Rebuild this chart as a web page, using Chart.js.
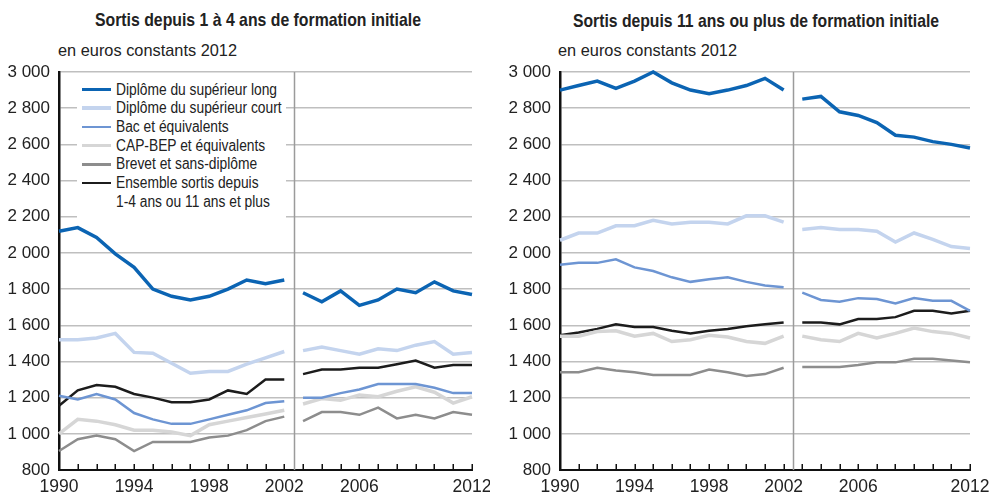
<!DOCTYPE html>
<html lang="fr">
<head>
<meta charset="utf-8">
<script src="https://cdn.jsdelivr.net/npm/chart.js@4/dist/chart.umd.min.js"></script>
<style>
  html, body { margin: 0; padding: 0; background: #fff; }
  body { font-family: 'Liberation Sans', Arial, sans-serif; color: #222; }
  #page { position: relative; width: 989px; height: 498px; overflow: hidden; }
  .panneau { position: absolute; top: 0; height: 498px; }
  .titre { position: absolute; font-weight: bold; font-size: 19px; line-height: 20px; white-space: nowrap; transform-origin: left center; }
  .unite { position: absolute; font-size: 17px; line-height: 20px; white-space: nowrap; transform-origin: left center; }
  #legende { position: absolute; left: 77px; top: 78px; width: 209px; height: 142px; background: #fff; padding-top: 2.5px; box-sizing: border-box; }
  .item { position: relative; padding-left: 39px; font-size: 16px; line-height: 18.7px; white-space: pre; }
  .item span { display: inline-block; transform-origin: left center; }
  .trait { position: absolute; left: 5px; width: 29px; }
</style>
</head>
<body>
<div id="page">
  <div class="titre" data-largeur="326" style="left:95px; top:10px;">Sortis depuis 1 à 4 ans de formation initiale</div>
  <div class="titre" data-largeur="366" style="left:573px; top:11px;">Sortis depuis 11 ans ou plus de formation initiale</div>
  <div class="unite" data-largeur="179" style="left:58px; top:41px;">en euros constants 2012</div>
  <div class="unite" data-largeur="179" style="left:558px; top:41px;">en euros constants 2012</div>
  <div class="panneau" style="left:0; width:490px;"><canvas id="graph1" width="490" height="498"></canvas></div>
  <div class="panneau" style="left:495px; width:494px;"><canvas id="graph2" width="494" height="498"></canvas></div>
  <div id="legende"></div>
</div>
<script>
// Années et étiquettes de l'axe
const annees = [1990, 1991, 1992, 1993, 1994, 1995, 1996, 1997, 1998, 1999, 2000, 2001, 2002,
                2003, 2004, 2005, 2006, 2007, 2008, 2009, 2010, 2011, 2012];
const anneesEtiquetees = [1990, 1994, 1998, 2002, 2006, 2012];
const rupture = 2002.5; // changement de série entre 2002 et 2003

// Séries
const libelles = [
  'Diplôme du supérieur long',
  'Diplôme du supérieur court',
  'Bac et équivalents',
  'CAP-BEP et équivalents',
  'Brevet et sans-diplôme',
  'Ensemble sortis depuis\n1-4 ans ou 11 ans et plus'
];
const couleurs = ['#0b64b3', '#c4d4ee', '#6d95d3', '#d6d6d6', '#8d8d8d', '#1c1c1c'];
const epaisseurs = [3.5, 3.5, 2.5, 3.5, 2.5, 2.5];

// Sortis depuis 1 à 4 ans
const supLong1 = [2120, 2140, 2085, 1995, 1920, 1800, 1760, 1740, 1760, 1800, 1850, 1830, 1850,
                  1780, 1730, 1790, 1710, 1740, 1800, 1780, 1840, 1790, 1770];
const supCourt1 = [1520, 1520, 1530, 1555, 1450, 1445, 1390, 1335, 1345, 1345, 1385, 1420, 1455,
                   1460, 1480, 1460, 1440, 1470, 1460, 1490, 1510, 1440, 1450];
const bac1 = [1210, 1190, 1220, 1190, 1115, 1080, 1055, 1055, 1080, 1105, 1130, 1170, 1180,
              1200, 1200, 1225, 1245, 1275, 1275, 1275, 1255, 1225, 1225];
const cap1 = [1000, 1080, 1070, 1050, 1020, 1020, 1010, 990, 1050, 1070, 1090, 1110, 1130,
              1165, 1195, 1185, 1215, 1205, 1235, 1260, 1230, 1170, 1205];
const brevet1 = [905, 970, 990, 970, 905, 955, 955, 955, 980, 990, 1020, 1070, 1095,
                 1070, 1120, 1120, 1105, 1145, 1085, 1105, 1085, 1120, 1105];
const ensemble1 = [1155, 1240, 1270, 1260, 1220, 1200, 1175, 1175, 1190, 1240, 1220, 1300, 1300,
                   1330, 1355, 1355, 1365, 1365, 1385, 1405, 1365, 1380, 1380];

// Sortis depuis 11 ans ou plus
const supLong2 = [2900, 2925, 2950, 2910, 2950, 3000, 2940, 2900, 2880, 2900, 2925, 2965, 2900,
                  2850, 2865, 2780, 2760, 2720, 2650, 2640, 2615, 2600, 2580];
const supCourt2 = [2070, 2110, 2110, 2150, 2150, 2180, 2160, 2170, 2170, 2160, 2205, 2205, 2170,
                   2130, 2140, 2130, 2130, 2120, 2060, 2110, 2075, 2035, 2025];
const bac2 = [1935, 1945, 1945, 1965, 1920, 1900, 1865, 1840, 1855, 1865, 1840, 1820, 1810,
              1780, 1740, 1730, 1750, 1745, 1720, 1750, 1735, 1735, 1680];
const cap2 = [1540, 1540, 1565, 1570, 1540, 1555, 1510, 1520, 1545, 1535, 1510, 1500, 1540,
              1540, 1520, 1510, 1555, 1530, 1555, 1585, 1565, 1555, 1530];
const brevet2 = [1340, 1340, 1365, 1350, 1340, 1325, 1325, 1325, 1355, 1340, 1320, 1330, 1365,
                 1370, 1370, 1370, 1380, 1395, 1395, 1415, 1415, 1405, 1395];
const ensemble2 = [1545, 1560, 1580, 1605, 1590, 1590, 1570, 1555, 1570, 1580, 1595, 1605, 1615,
                   1615, 1615, 1605, 1635, 1635, 1645, 1680, 1680, 1665, 1680];

Chart.defaults.font.family = "'Liberation Sans', Arial, sans-serif";
Chart.defaults.color = '#222';

// 3000 -> "3 000"
function formatEuros(v) {
  if (v < 1000) return String(v);
  return Math.floor(v / 1000) + ' ' + String(v % 1000).padStart(3, '0');
}

// Points avec une coupure entre les deux séries
function points(valeurs) {
  const pts = [];
  annees.forEach((a, i) => {
    if (a === 2003) pts.push({ x: rupture, y: null });
    pts.push({ x: a, y: valeurs[i] });
  });
  return pts;
}

// Trait vertical de rupture et petits repères d'années
const decor = {
  id: 'decor',
  beforeDatasetsDraw(chart) {
    const { ctx, chartArea, scales: { x } } = chart;
    ctx.save();
    const xr = Math.round(x.getPixelForValue(rupture)) + 0.5;
    ctx.strokeStyle = '#9b9b9b';
    ctx.lineWidth = 1.5;
    ctx.beginPath();
    ctx.moveTo(xr, chartArea.top);
    ctx.lineTo(xr, chartArea.bottom);
    ctx.stroke();
    ctx.strokeStyle = '#111';
    ctx.lineWidth = 1.5;
    ctx.beginPath();
    annees.forEach(a => {
      const px = Math.round(x.getPixelForValue(a)) + 0.25;
      ctx.moveTo(px, chartArea.bottom);
      ctx.lineTo(px, chartArea.bottom - 6);
    });
    ctx.stroke();
    ctx.restore();
  }
};

function creerGraphique(id, series, largeurAxe, margeDroite) {
  const ctx = document.getElementById(id).getContext('2d');
  return new Chart(ctx, {
    type: 'line',
    data: {
      datasets: series.map((valeurs, i) => ({
        label: libelles[i],
        data: points(valeurs),
        borderColor: couleurs[i],
        backgroundColor: couleurs[i],
        borderWidth: epaisseurs[i],
        pointRadius: 0,
        tension: 0,
        spanGaps: false,
        clip: 6
      }))
    },
    options: {
      responsive: false,
      animation: false,
      devicePixelRatio: 1,
      layout: { padding: { top: 72, right: margeDroite, bottom: 0, left: 0 } },
      plugins: { legend: { display: false }, tooltip: { enabled: false } },
      scales: {
        x: {
          type: 'linear',
          min: 1990,
          max: 2012,
          afterBuildTicks: s => { s.ticks = annees.map(v => ({ value: v })); },
          ticks: {
            autoSkip: false,
            maxRotation: 0,
            padding: 7,
            color: '#222',
            font: { size: 17.5 },
            callback: v => anneesEtiquetees.includes(v) ? String(v) : ''
          },
          grid: { display: false, drawTicks: false },
          border: { display: true, color: '#111', width: 2 },
          afterFit: s => { s.height = 28; s.paddingLeft = 0; s.paddingRight = 0; }
        },
        y: {
          min: 800,
          max: 3000,
          ticks: {
            stepSize: 200,
            padding: 9,
            color: '#222',
            font: { size: 17 },
            callback: v => formatEuros(v)
          },
          grid: {
            color: c => c.tick && c.tick.value === 800 ? 'rgba(0,0,0,0)' : '#bfbfbf',
            lineWidth: 1.4,
            drawTicks: false
          },
          border: { display: true, color: '#111', width: 2.5 },
          afterFit: s => { s.width = largeurAxe; s.paddingTop = 0; s.paddingBottom = 0; }
        }
      }
    },
    plugins: [decor]
  });
}

creerGraphique('graph1', [supLong1, supCourt1, bac1, cap1, brevet1, ensemble1], 59, 18);
creerGraphique('graph2', [supLong2, supCourt2, bac2, cap2, brevet2, ensemble2], 65, 19);

// Texte resserré (police étroite de l'original)
function resserrer(el, largeur) {
  const w = el.getBoundingClientRect().width;
  if (w > 0) el.style.transform = 'scaleX(' + (largeur / w) + ')';
}
document.querySelectorAll('[data-largeur]').forEach(el => resserrer(el, +el.dataset.largeur));

// Légende (panneau de gauche)
const legende = document.getElementById('legende');
const textes = [];
libelles.forEach((texte, i) => {
  const item = document.createElement('div');
  item.className = 'item';
  const trait = document.createElement('div');
  trait.className = 'trait';
  trait.style.height = epaisseurs[i] + 'px';
  trait.style.top = (9 - epaisseurs[i] / 2) + 'px';
  trait.style.background = couleurs[i];
  const span = document.createElement('span');
  span.textContent = texte;
  item.appendChild(trait);
  item.appendChild(span);
  legende.appendChild(item);
  textes.push(span);
});
const facteur = 161 / textes[0].getBoundingClientRect().width;
textes.forEach(s => { s.style.transform = 'scaleX(' + facteur + ')'; });
</script>
</body>
</html>
